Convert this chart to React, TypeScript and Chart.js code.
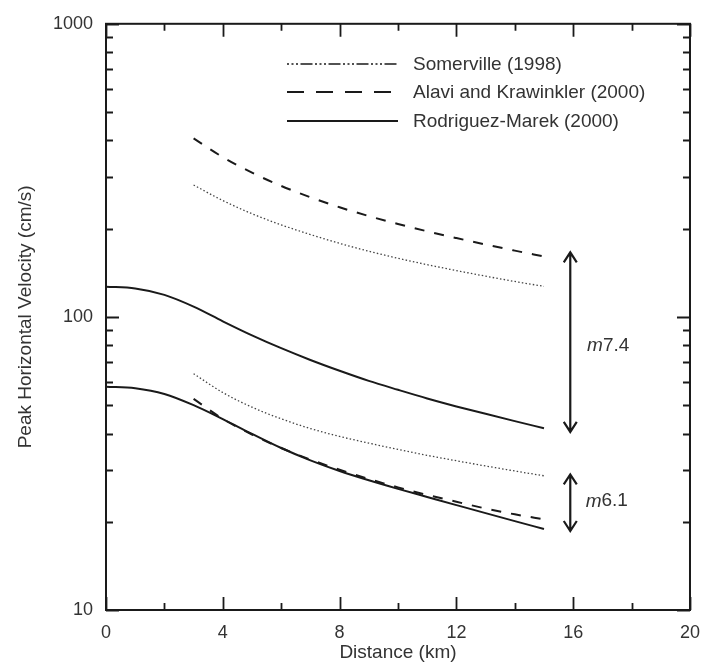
import React, { useEffect, useRef } from 'react';
import { Chart, registerables } from 'chart.js';

Chart.register(...registerables);

// ---------- data ----------
const distanceFull = [0, 1, 2, 3, 4, 5, 6, 7, 8, 9, 10, 11, 12, 13, 14, 15];
const distanceShort = [3, 4, 5, 6, 7, 8, 9, 10, 11, 12, 13, 14, 15];

const rodriguezM74 = [126.8, 125.0, 118.9, 108.4, 96.6, 86.5, 78.2, 71.3, 65.5, 60.5, 56.4, 52.7, 49.5, 46.7, 44.1, 41.7];
const rodriguezM61 = [57.8, 57.1, 54.6, 50.0, 44.8, 39.9, 35.7, 32.4, 29.8, 27.7, 25.9, 24.3, 22.8, 21.4, 20.1, 18.9];
const somervilleM74 = [281.8, 249.5, 224.9, 206.1, 191.0, 178.2, 167.5, 158.5, 150.7, 143.9, 137.7, 132.1, 127.1];
const somervilleM61 = [64.0, 55.2, 49.2, 44.9, 41.6, 39.1, 37.1, 35.3, 33.7, 32.3, 31.0, 29.8, 28.7];
const alaviM74 = [406.4, 350.8, 310.5, 279.9, 255.9, 236.6, 220.8, 207.5, 195.9, 185.8, 176.6, 168.3, 160.7];
const alaviM61 = [52.5, 44.9, 39.7, 35.7, 32.6, 30.1, 28.0, 26.2, 24.7, 23.4, 22.2, 21.2, 20.4];

const legendLabels = ['Somerville (1998)', 'Alavi and Krawinkler (2000)', 'Rodriguez-Marek (2000)'];
const xTickLabels = [0, 4, 8, 12, 16, 20];
const xMinorTicks = [2, 6, 10, 14, 18];
const yTickLabels = [10, 100, 1000];
const yMinorTicks = [20, 30, 40, 50, 60, 70, 80, 90, 200, 300, 400, 500, 600, 700, 800, 900];

const arrowX = 15.9;
const arrowM74 = [166, 40.5];
const arrowM61 = [29, 18.6];
const magnitudeText = ['7.4', '6.1'];
const magnitudeLabelX = [17.2, 17.15];
const magnitudeLabelY = [79.5, 23.5];

// ---------- styles ----------
const INK = '#1a1a1a';
const TEXT = '#333333';
const FONT = '"Liberation Sans", Arial, Helvetica, sans-serif';
const DOTTED = [1.5, 2.2];
const DASHED = [10, 10];

const pts = (xs: number[], ys: number[]) => xs.map((x, i) => ({ x, y: ys[i] }));

const overlayPlugin = {
  id: 'overlay',
  afterDraw(chart: any) {
    const { ctx, chartArea: a, scales } = chart;
    const xs = scales.x;
    const ys = scales.y;
    ctx.save();
    // frame
    ctx.strokeStyle = INK;
    ctx.lineWidth = 2;
    ctx.setLineDash([]);
    ctx.strokeRect(a.left, a.top, a.right - a.left, a.bottom - a.top);
    // x ticks (top & bottom, inward)
    ctx.lineWidth = 1.8;
    const xt = (v: number, len: number) => {
      const px = Math.round(xs.getPixelForValue(v)) + 0.5;
      ctx.beginPath();
      ctx.moveTo(px, a.bottom);
      ctx.lineTo(px, a.bottom - len);
      ctx.moveTo(px, a.top);
      ctx.lineTo(px, a.top + len);
      ctx.stroke();
    };
    xTickLabels.forEach((v) => xt(v, 13));
    xMinorTicks.forEach((v) => xt(v, 7));
    const yt = (v: number, len: number) => {
      const py = Math.round(ys.getPixelForValue(v)) + 0.5;
      ctx.beginPath();
      ctx.moveTo(a.left, py);
      ctx.lineTo(a.left + len, py);
      ctx.moveTo(a.right, py);
      ctx.lineTo(a.right - len, py);
      ctx.stroke();
    };
    yTickLabels.forEach((v) => yt(v, 13));
    yMinorTicks.forEach((v) => yt(v, 7));

    // legend
    const legendX0 = 287;
    const legendX1 = 398;
    const legendY = [64, 92, 121];
    const legendDash = [[2, 2.5, 2, 2.5, 2, 2.5, 12, 2.5], [17, 12], []];
    const legendWidth = [1.6, 2, 2];
    legendLabels.forEach((label, i) => {
      ctx.beginPath();
      ctx.setLineDash(legendDash[i]);
      ctx.lineWidth = legendWidth[i];
      ctx.strokeStyle = INK;
      ctx.moveTo(legendX0, legendY[i]);
      ctx.lineTo(legendX1, legendY[i]);
      ctx.stroke();
      ctx.setLineDash([]);
      ctx.fillStyle = TEXT;
      ctx.font = `19px ${FONT}`;
      ctx.textBaseline = 'middle';
      ctx.textAlign = 'left';
      ctx.fillText(label, 413, legendY[i] + 1);
    });

    // arrows
    const arrow = (range: number[]) => {
      const px = xs.getPixelForValue(arrowX);
      const y0 = ys.getPixelForValue(range[0]);
      const y1 = ys.getPixelForValue(range[1]);
      ctx.setLineDash([]);
      ctx.lineWidth = 2.2;
      ctx.strokeStyle = INK;
      ctx.lineJoin = 'miter';
      ctx.beginPath();
      ctx.moveTo(px, y0);
      ctx.lineTo(px, y1);
      ctx.moveTo(px - 6.5, y0 + 10);
      ctx.lineTo(px, y0);
      ctx.lineTo(px + 6.5, y0 + 10);
      ctx.moveTo(px - 6.5, y1 - 10);
      ctx.lineTo(px, y1);
      ctx.lineTo(px + 6.5, y1 - 10);
      ctx.stroke();
    };
    arrow(arrowM74);
    arrow(arrowM61);

    // magnitude labels
    magnitudeText.forEach((t, i) => {
      const cx = xs.getPixelForValue(magnitudeLabelX[i]);
      const cy = ys.getPixelForValue(magnitudeLabelY[i]);
      ctx.font = `italic 19px ${FONT}`;
      const wm = ctx.measureText('m').width;
      ctx.font = `19px ${FONT}`;
      const wn = ctx.measureText(t).width;
      const x0 = cx - (wm + wn) / 2;
      ctx.fillStyle = TEXT;
      ctx.textBaseline = 'middle';
      ctx.textAlign = 'left';
      ctx.font = `italic 19px ${FONT}`;
      ctx.fillText('m', x0, cy);
      ctx.font = `19px ${FONT}`;
      ctx.fillText(t, x0 + wm, cy);
    });
    ctx.restore();
  },
};

export default function App() {
  const ref = useRef<HTMLCanvasElement>(null);
  useEffect(() => {
    if (!ref.current) return;
    const solid = { borderColor: INK, borderWidth: 2, borderDash: [] as number[] };
    const dashed = { borderColor: INK, borderWidth: 2, borderDash: DASHED };
    const dotted = { borderColor: '#444', borderWidth: 1.3, borderDash: DOTTED };
    const common = { pointRadius: 0, fill: false, cubicInterpolationMode: 'monotone' as const };
    const chart = new Chart(ref.current, {
      type: 'line',
      data: {
        datasets: [
          { label: legendLabels[0] + ' m7.4', data: pts(distanceShort, somervilleM74), ...dotted, ...common },
          { label: legendLabels[0] + ' m6.1', data: pts(distanceShort, somervilleM61), ...dotted, ...common },
          { label: legendLabels[1] + ' m7.4', data: pts(distanceShort, alaviM74), ...dashed, ...common },
          { label: legendLabels[1] + ' m6.1', data: pts(distanceShort, alaviM61), ...dashed, ...common },
          { label: legendLabels[2] + ' m7.4', data: pts(distanceFull, rodriguezM74), ...solid, ...common },
          { label: legendLabels[2] + ' m6.1', data: pts(distanceFull, rodriguezM61), ...solid, ...common },
        ],
      },
      options: {
        animation: false,
        responsive: false,
        maintainAspectRatio: false,
        layout: { padding: { top: 17, right: 14, left: 0, bottom: 0 } },
        plugins: { legend: { display: false }, tooltip: { enabled: false } },
        scales: {
          x: {
            type: 'linear',
            min: 0,
            max: 20,
            afterFit: (s: any) => {
              s.height = 60;
            },
            afterBuildTicks: (s: any) => {
              s.ticks = xTickLabels.map((v) => ({ value: v }));
            },
            grid: { display: false, drawTicks: false },
            border: { display: false },
            ticks: { font: { size: 18, family: FONT }, color: TEXT, padding: 12, maxRotation: 0, autoSkip: false },
            title: {
              display: true,
              text: 'Distance (km)',
              font: { size: 19, family: FONT },
              color: TEXT,
              padding: { top: 6, bottom: 6 },
            },
          },
          y: {
            type: 'logarithmic',
            min: 10,
            max: 1000,
            afterFit: (s: any) => {
              s.width = 106;
            },
            afterBuildTicks: (s: any) => {
              s.ticks = yTickLabels.map((v) => ({ value: v }));
            },
            grid: { display: false, drawTicks: false },
            border: { display: false },
            ticks: {
              font: { size: 18, family: FONT },
              color: TEXT,
              padding: 13,
              autoSkip: false,
              callback: (v: any) => String(v),
            },
            title: {
              display: true,
              text: 'Peak Horizontal Velocity (cm/s)',
              font: { size: 19, family: FONT },
              color: TEXT,
              padding: { top: 14, bottom: 14 },
            },
          },
        },
      },
      plugins: [overlayPlugin],
    });
    return () => chart.destroy();
  }, []);
  return (
    <div style={{ position: 'absolute', left: 0, top: 0, width: 712, height: 670, background: '#fff' }}>
      <canvas ref={ref} width={712} height={670} style={{ display: 'block' }} />
    </div>
  );
}
